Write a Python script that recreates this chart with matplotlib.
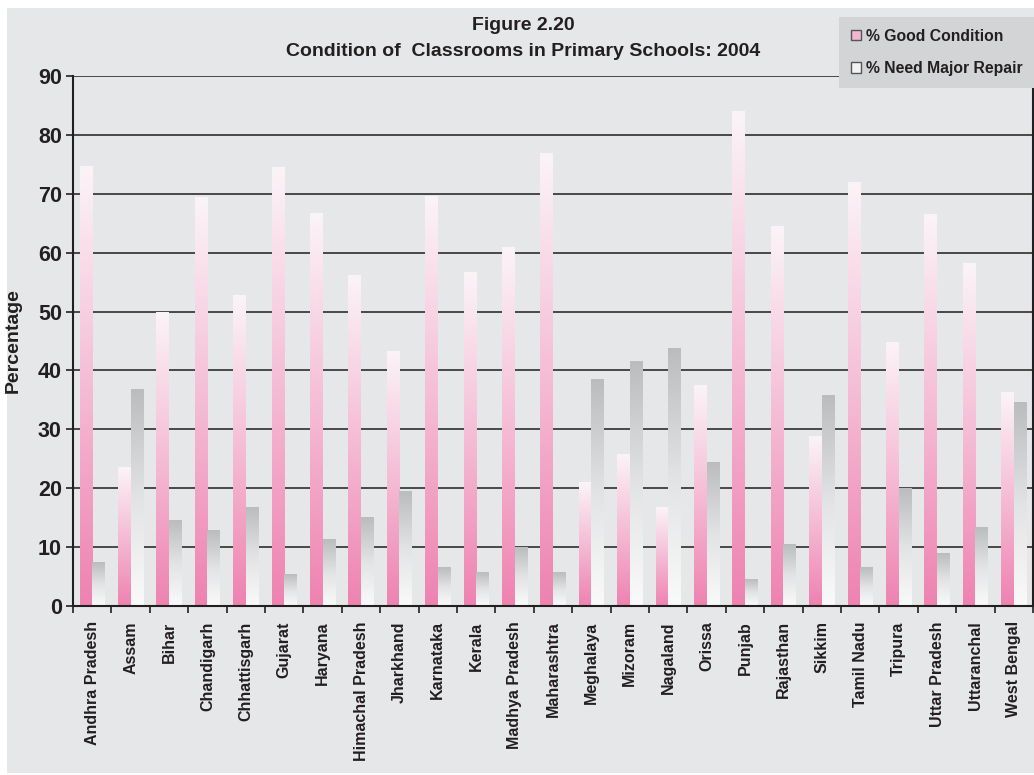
import numpy as np
import matplotlib
matplotlib.use("Agg")
import matplotlib.pyplot as plt
from matplotlib.colors import LinearSegmentedColormap
from matplotlib.patches import Patch, Rectangle

plt.rcParams['font.family'] = ['Liberation Sans', 'DejaVu Sans']
plt.rcParams['font.weight'] = 'bold'
plt.rcParams['axes.labelweight'] = 'bold'

# data
states = ["Andhra Pradesh", "Assam", "Bihar", "Chandigarh", "Chhattisgarh",
          "Gujarat", "Haryana", "Himachal Pradesh", "Jharkhand", "Karnataka",
          "Kerala", "Madhya Pradesh", "Maharashtra", "Meghalaya", "Mizoram",
          "Nagaland", "Orissa", "Punjab", "Rajasthan", "Sikkim", "Tamil Nadu",
          "Tripura", "Uttar Pradesh", "Uttaranchal", "West Bengal"]
good = [74.7, 23.6, 49.9, 69.3, 52.8, 74.4, 66.6, 56.2, 43.3, 69.6,
        56.7, 60.8, 76.9, 20.9, 25.8, 16.8, 37.5, 83.9, 64.5, 28.7,
        72.0, 44.7, 66.4, 58.1, 36.2]
repair = [7.4, 36.7, 14.6, 12.9, 16.8, 5.4, 11.3, 15.0, 19.4, 6.5,
          5.7, 10.0, 5.7, 38.4, 41.6, 43.8, 24.3, 4.5, 10.5, 35.8,
          6.5, 20.0, 9.0, 13.4, 34.6]
yticks = [0, 10, 20, 30, 40, 50, 60, 70, 80, 90]

BG = "#e6e7e9"
TXT = "#231f20"

pink_cm = LinearSegmentedColormap.from_list("pink", ["#ee82b0", "#f5bcd5", "#fbf4f7"])
gray_cm = LinearSegmentedColormap.from_list("gray", ["#fafafa", "#e2e3e4", "#bbbcbe"])

fig = plt.figure(figsize=(10.34, 7.75), dpi=100, facecolor="white")
fig.patches.append(Rectangle((7/1034, 0.003), 1 - 7/1034, 1 - 8/775 - 0.003,
                             transform=fig.transFigure, facecolor=BG,
                             edgecolor="none", zorder=-10))

ax = fig.add_axes([73/1034, 1 - 606/775, 960/1034, 530/775])
ax.set_facecolor(BG)

x = np.arange(len(states))
w = 0.33
bars1 = ax.bar(x - w/2, good, w, color="none", zorder=2)
bars2 = ax.bar(x + w/2, repair, w, color="none", zorder=2)

grad = np.linspace(0, 1, 256).reshape(-1, 1)
for bars, cm in ((bars1, pink_cm), (bars2, gray_cm)):
    for b in bars:
        x0, h, bw = b.get_x(), b.get_height(), b.get_width()
        ax.imshow(grad, extent=[x0, x0 + bw, 0, h], origin="lower",
                  aspect="auto", cmap=cm, zorder=2)

ax.set_xlim(-0.5, len(states) - 0.5)
ax.set_ylim(0, 90)
ax.set_yticks(yticks)
ax.yaxis.grid(True, color="#3c3c3c", lw=1.3, zorder=1)
ax.set_axisbelow(True)

ax.set_xticks(x)
ax.set_xticklabels(states, rotation=90, fontsize=11.5, color=TXT, va="top")
ax.set_xticks(np.arange(-0.5, len(states)), minor=True)
ax.tick_params(axis="x", which="major", length=0, pad=11)
ax.tick_params(axis="x", which="minor", length=5, width=1.2, color=TXT)
ax.tick_params(axis="y", length=5, width=1.2, color=TXT, labelsize=15.5,
               labelcolor=TXT, pad=3)

for s in ("left", "bottom", "right"):
    ax.spines[s].set_color(TXT)
    ax.spines[s].set_linewidth(1.5)
ax.spines["top"].set_visible(False)

ax.set_ylabel("Percentage", fontsize=14, color=TXT, fontweight="bold")
ax.yaxis.set_label_coords(-0.053, 0.5)

fig.text(523/1034, 1 - 26/775, "Figure 2.20", ha="center", va="center",
         fontsize=14, color=TXT)
fig.text(523/1034, 1 - 52/775, "Condition of  Classrooms in Primary Schools: 2004",
         ha="center", va="center", fontsize=14, color=TXT)

handles = [Patch(facecolor="#f3b6cf", edgecolor="#555555", lw=1),
           Patch(facecolor="#f2f2f2", edgecolor="#555555", lw=1)]
leg = fig.legend(handles, ["% Good Condition", "% Need Major Repair"],
                 loc="upper right", bbox_to_anchor=(1.0, 1 - 17/775),
                 frameon=True, fancybox=False, fontsize=11.3,
                 handlelength=0.65, handleheight=0.65, handletextpad=0.3,
                 labelspacing=1.1, borderpad=0.75, borderaxespad=0)
leg.get_frame().set_facecolor("#d3d4d6")
leg.get_frame().set_edgecolor("none")
leg.get_frame().set_alpha(1)
for t in leg.get_texts():
    t.set_color(TXT)

fig.savefig("out.png", dpi=100, facecolor="white")
